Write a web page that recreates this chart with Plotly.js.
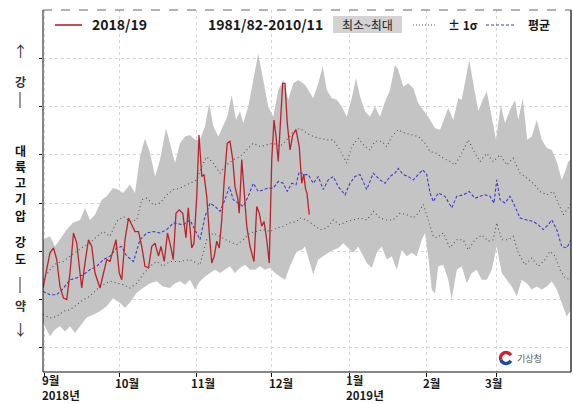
<!DOCTYPE html>
<html><head><meta charset="utf-8">
<script src="https://cdn.plot.ly/plotly-3.0.1.min.js"></script>
<style>html,body{margin:0;padding:0;background:#fff}</style>
</head><body><div id="chart" style="width:573px;height:404px"></div>
<script>
// x = days since 1 Sep 2018
const maxDays=[0,2.8,4.8,6.8,9.5,12,14.8,16.8,18.8,20.8,23.5,25.5,28,30,32,34.8,36.8,38.8,40.8,42.8,44.8,46.8,49.2,51.5,52.8,54.8,56.8,58.8,60.8,62.8,64.8,66.5,68.1,70.1,72.1,73.7,75.5,77.2,78.8,80.1,82.1,84.1,86.1,88.1,90.1,92.1,94.1,96.1,98.1,100.1,102.1,104.8,108.1,110.1,111.9,113.5,115.5,117.5,119.5,121.5,123.5,125.2,126.8,128.8,130.8,132.8,134.8,136.8,138.8,140.8,142.1,144.1,146.1,148.1,150.1,152.1,154.1,156.8,158.8,160.8,162.1,164.1,166.1,167.5,168.8,170.5,172.1,174.1,175.9,177.5,179.5,181.2,183.1,184.8,186.8,188.8,190.1,191.9,193.7,195.5,197.5,199.5,201.5,203.5,205.5,207.5,208.8,210.1,211.2];
const maxVals=[2.24,2.31,2.10,2.24,2.45,2.59,2.65,2.90,2.65,2.76,3.07,3.14,3.31,3.28,3.21,3.38,3.21,3.96,4.34,4.04,3.55,3.90,4.55,4.10,3.83,4.24,4.38,4.41,4.31,4.31,4.59,5.07,4.59,4.38,4.59,4.79,5.24,4.72,4.90,4.66,5.00,5.55,6.10,5.55,5.00,4.79,5.34,5.55,5.14,5.48,5.55,5.45,5.17,5.48,5.83,5.34,5.17,5.14,5.00,4.79,5.17,5.59,5.21,4.90,4.79,5.00,4.79,5.10,5.34,5.86,5.76,5.41,5.48,5.38,5.07,4.93,4.79,4.55,4.52,4.79,4.97,4.72,5.17,5.14,5.48,5.97,5.48,4.90,5.14,5.31,4.79,4.31,5.03,4.66,4.93,5.14,4.72,5.17,4.31,4.38,4.72,4.31,4.14,4.10,3.86,3.48,3.65,3.86,3.90];
const minDays=[0,2.8,4.8,6.8,8.8,10.8,12.8,14.8,17.5,20.2,22.8,25.5,28,30.8,32.8,34.8,37.5,40,42.8,45.5,48,50.8,52.8,54.8,56.8,58.8,60.8,62.8,64.8,66.8,68.8,70.8,72.8,74.8,76.8,78.8,80.8,82.8,84.8,86.8,88.8,90.8,92.8,94.8,96.8,98.8,101.5,103.5,104.8,106.8,108.1,110.1,112.1,114.1,116.1,118.1,120.1,122.1,124.1,126.1,128.1,129.5,131.5,133.5,135.5,137.5,139.5,141.5,143.5,145.5,147.5,149.5,151.5,152.8,154.1,155.5,156.8,158.1,160.1,162.1,163.5,165.5,167.5,169.5,171.5,173.5,175.5,177.5,179.5,181.5,183.5,185.5,187.5,189.5,191.5,193.5,195.5,197.5,199.5,201.5,203.5,205.5,207.5,209.5,210.8,211.2];
const minVals=[0.52,0.24,0.38,0.45,0.34,0.45,0.31,0.45,0.63,0.69,0.76,0.86,1.03,0.93,0.83,0.94,1.14,1.24,1.34,1.38,1.27,1.24,1.34,1.38,1.31,1.41,1.21,1.38,1.48,1.55,1.62,1.55,1.62,1.69,1.55,1.66,1.72,1.62,1.62,1.69,1.62,1.66,1.55,1.48,1.41,1.69,2.00,2.03,2.10,1.76,1.52,1.83,1.90,1.97,2.03,2.07,2.17,2.07,1.97,2.10,1.90,1.76,1.66,1.97,2.10,1.83,1.90,1.62,2.03,1.90,1.97,1.90,2.24,2.38,1.90,1.21,1.12,1.69,1.72,1.41,1.00,1.62,1.69,1.34,1.55,1.62,1.41,1.41,1.62,2.10,1.55,1.41,1.27,1.07,1.41,1.34,1.21,1.27,1.21,1.27,1.38,1.21,0.93,0.65,0.76,0.72];
const upDays=[0,2.8,5.5,8.2,10.8,13.5,16.2,18.8,21.5,24.2,26.8,29.5,32.2,34.8,37.5,39.5,41.5,44.2,46.8,49.5,52.2,54.5,56.1,58.8,61.5,63.5,65.5,68.1,70.8,73.5,76.1,78.8,81.5,84.1,86.8,89.5,92.1,94.8,97.5,100.1,102.8,105.5,108.1,110.8,113.5,116.1,118.8,121.5,123.5,126.1,128.8,130.8,132.8,135.5,137.5,139.5,142.1,144.8,147.5,150.1,152.8,154.8,157.5,160.1,162.8,164.8,167.5,170.1,172.1,174.8,177.5,180.1,182.8,185.5,188.1,190.8,193.5,196.1,198.8,201.5,204.1,206.1,208.1,210.1,211.2];
const upVals=[1.41,1.62,1.76,1.79,1.90,2.00,2.10,2.17,2.31,2.41,2.31,2.62,2.72,2.62,2.65,3.07,3.10,2.96,3.00,3.17,3.28,3.30,3.34,3.41,3.48,3.76,3.96,3.83,3.62,3.79,3.90,3.96,4.10,4.24,4.17,4.21,4.24,4.17,4.31,4.48,4.55,4.45,4.38,4.34,4.31,4.31,4.10,3.83,4.17,4.34,4.17,4.10,4.28,4.28,4.17,4.38,4.52,4.45,4.41,4.38,4.24,4.07,4.03,3.93,3.86,3.79,4.03,4.31,4.10,3.86,4.03,3.86,4.00,3.79,3.93,3.62,3.52,3.41,3.24,3.17,3.24,3.00,2.76,2.90,3.00];
const loDays=[0,2.8,5.5,8.2,10.8,13.5,16.2,18.8,21.5,24.2,26.8,29.5,32.2,34.8,37.5,40,42.8,45.5,48,50.8,54.8,58.8,62.8,65.5,68.1,70.8,74.1,77.5,80.1,82.8,85.5,88.1,90.8,93.5,96.1,98.8,101.5,102.8,105.5,108.1,110.8,113.5,116.1,118.8,121.5,124.1,126.8,129.5,132.1,134.8,137.5,140.1,142.8,145.5,148.1,150.1,152.1,154.1,156.1,157.5,160.1,162.8,165.5,168.1,170.1,172.8,175.5,178.1,180.1,181.5,183.5,186.1,188.1,190.1,192.8,195.5,198.1,200.8,202.8,204.8,206.8,208.8,211.2];
const loVals=[0.69,0.62,0.65,0.76,0.79,0.90,1.00,1.07,1.21,1.31,1.38,1.34,1.31,1.24,1.34,1.52,1.69,1.79,1.69,1.79,1.79,1.83,1.72,2.24,2.38,2.31,2.21,2.14,2.24,2.38,2.41,2.45,2.41,2.48,2.52,2.59,2.62,2.69,2.65,2.55,2.45,2.48,2.65,2.55,2.62,2.65,2.69,2.65,2.83,2.69,2.65,2.65,2.79,2.76,2.69,2.79,2.97,2.65,2.31,2.28,2.38,2.07,2.24,2.24,2.03,2.24,2.34,2.21,2.24,2.59,2.24,2.24,2.31,1.97,1.72,1.86,1.69,1.83,2.00,1.90,1.62,1.45,1.41];
const meanDays=[0,2.8,5.5,8.2,10.8,13.5,16.2,18.8,21.5,24.2,26.8,29.5,31.5,33.5,36.2,38.8,41.5,44.2,46.8,49.5,52.2,56.1,58.8,60.8,62.8,64.8,66.8,68.8,70.8,72.8,74.5,76.1,78.1,80.1,82.1,84.1,86.1,88.1,90.1,92.1,94.1,96.1,97.7,99.5,101.2,102.5,104.1,106.1,108.1,110.1,112.1,114.1,116.1,118.1,120.8,122.8,124.8,126.8,129.5,132.1,134.8,136.8,138.8,140.8,142.1,144.1,146.1,148.1,150.1,151.9,153.5,154.8,156.1,158.1,160.8,163.5,165.5,168.1,170.5,172.8,174.8,176.8,178.8,180.4,181.5,182.8,184.8,186.8,188.8,190.8,193.5,196.1,198.1,200.1,202.1,203.5,205.5,207.5,209.5,211.2];
const meanVals=[1.17,1.10,1.10,1.24,1.41,1.45,1.52,1.62,1.69,1.83,1.90,2.07,2.10,1.90,1.79,2.24,2.38,2.41,2.38,2.45,2.59,2.55,2.65,2.45,2.24,2.72,3.00,2.93,2.83,3.07,3.34,3.07,3.00,2.93,3.14,3.41,3.24,3.28,3.31,3.31,3.45,3.41,3.24,3.41,3.38,3.65,3.59,3.59,3.41,3.55,3.28,3.48,3.55,3.34,3.17,3.41,3.55,3.59,3.28,3.62,3.48,3.41,3.55,3.62,3.72,3.59,3.55,3.48,3.59,3.69,3.59,3.21,3.03,3.21,3.14,2.90,3.14,3.17,3.24,3.10,3.14,3.17,3.14,3.00,3.48,3.07,3.00,3.14,2.93,2.69,2.65,2.62,2.55,2.45,2.55,2.65,2.45,2.10,2.07,2.24];
const obsDays=[0,1.3,2.8,4.2,5.5,6.8,8.2,9.5,10.8,12.2,13.5,14.8,15.5,16.8,18.2,19.5,20.8,22.8,24.2,25.5,26.8,28.2,29.2,30.5,31.5,32.8,34.2,35.5,36.8,38.2,39.5,40.8,42.2,43.5,44.8,46.2,47.2,48.5,49.8,51.2,52.1,53.2,54.5,55.9,57.2,58.1,59.5,60.4,61.5,62.4,63.5,64.4,65.5,66.5,67.5,68.5,69.5,70.5,71.5,72.5,73.7,74.8,75.9,76.8,77.9,78.5,79.5,80.4,81.5,82.8,84.4,85.5,86.5,87.5,88.4,89.5,90.5,91.5,92.4,93.2,94.1,95.1,95.9,96.8,97.7,98.8,99.9,101.2,102.5,103.5,104.3,105,105.6,106.5];
const obsVals=[1.24,1.62,1.97,2.07,1.83,1.27,1.03,1.00,1.55,2.38,2.17,1.55,1.24,1.76,2.24,2.10,1.55,1.24,1.55,1.83,1.79,2.03,2.24,1.55,1.41,2.24,2.69,2.55,2.41,2.41,2.10,1.69,1.66,2.10,2.17,1.90,2.10,1.79,2.38,2.07,1.83,2.79,2.86,2.79,2.28,2.90,2.07,2.17,3.14,4.41,3.55,3.59,3.14,2.38,1.76,1.90,2.21,2.07,2.65,3.48,4.24,4.28,3.90,3.34,3.10,2.79,3.90,3.28,2.52,2.10,1.79,2.93,2.79,2.52,2.62,2.24,1.76,3.90,4.72,4.38,3.86,4.79,5.48,5.48,4.66,4.10,4.41,4.52,4.17,3.41,3.60,3.30,3.20,2.76];
const monthTicks=[0.5,30.5,61.5,91.5,122.5,153.5,181.5];
const monthLabels=['9월','10월','11월','12월','1월','2월','3월'];
const yearLabels=['2018년','','','','2019년','',''];

const L=43,R=571,T=10,B=372;
const px=x=>(x-L)/(R-L), py=y=>(B-y)/(B-T);
const FONT='"Noto Sans CJK KR", "Noto Sans", sans-serif';

const traces=[
 {x:maxDays.concat(minDays.slice().reverse()), y:maxVals.concat(minVals.slice().reverse()),
  fill:'toself', fillcolor:'#c4c4c4', line:{width:0}, mode:'lines', hoverinfo:'skip'},
 {x:upDays,y:upVals,mode:'lines',line:{color:'#505050',width:1.1,dash:'1px,3px'}},
 {x:loDays,y:loVals,mode:'lines',line:{color:'#505050',width:1.1,dash:'1px,3px'}},
 {x:meanDays,y:meanVals,mode:'lines',line:{color:'#3b3bc8',width:1.1,dash:'3px,2px'}},
 {x:obsDays,y:obsVals,mode:'lines',line:{color:'#bb2329',width:1.3}}
];

const ann=[], shp=[];
function txt(t,x,y,o){ann.push(Object.assign({text:t,xref:'paper',yref:'paper',x:px(x),y:py(y),showarrow:false,xanchor:'left',yanchor:'middle',borderpad:0,font:{family:FONT,size:12,color:'#1a1a1a'}},o||{}));}
function ln(x0,y0,x1,y1,line){shp.push({type:'line',xref:'paper',yref:'paper',x0:px(x0),y0:py(y0),x1:px(x1),y1:py(y1),line:line});}

// legend
ln(55,25,82,25,{color:'#bb2329',width:1.6});
txt('<b>2018/19</b>',91,24,{font:{family:FONT,size:14,color:'#1a1a1a'}});
txt('<b>1981/82-2010/11</b>',207,24,{font:{family:FONT,size:14,color:'#1a1a1a'}});
shp.push({type:'rect',xref:'paper',yref:'paper',x0:px(333),x1:px(402),y0:py(33),y1:py(16),fillcolor:'#d3d3d3',line:{width:0}});
txt('최소~최대',367.5,24.5,{xanchor:'center',font:{family:FONT,size:12,color:'#222'}});
ln(413,25,436,25,{color:'#555',width:1,dash:'1px,2px'});
txt('<b>± 1σ</b>',447,24.5,{font:{family:FONT,size:12,color:'#1a1a1a'}});
ln(486,25,514,25,{color:'#3b3bc8',width:1,dash:'3px,2px'});
txt('<b>평균</b>',527,24.5,{font:{family:FONT,size:12,color:'#1a1a1a'}});

// left vertical label (one character per line, as in the reference)
txt('↑',20,50,{xanchor:'center',font:{family:FONT,size:15,color:'#333'}});
txt('<b>강</b>',20,81,{xanchor:'center',font:{family:FONT,size:12,color:'#333'}});
ln(20,92,20,108,{color:'#333',width:1});
const vChars=['대','륙','고','기','압','강','도'], vY=[151,167,183,199,215,242,258];
vChars.forEach((c,i)=>txt('<b>'+c+'</b>',20,vY[i],{xanchor:'center',font:{family:FONT,size:12,color:'#111'}}));
ln(20,277,20,293,{color:'#333',width:1});
txt('<b>약</b>',20,305,{xanchor:'center',font:{family:FONT,size:12,color:'#333'}});
txt('↓',20,328,{xanchor:'center',font:{family:FONT,size:15,color:'#333'}});

// month labels (month + year in one left-aligned text block)
const labX=[41,114,190,268,345,422,484];
monthLabels.forEach((m,i)=>{
  if(yearLabels[i]) txt('<b>'+m+'<br>'+yearLabels[i]+'</b>',labX[i],404,{yanchor:'bottom',align:'left',font:{family:FONT,size:11.5,color:'#1a1a1a'}});
  else txt('<b>'+m+'</b>',labX[i],383,{font:{family:FONT,size:11.5,color:'#1a1a1a'}});
});

// frame
ln(L,T,L,B,{color:'#111',width:1});
ln(L,B,R,B,{color:'#111',width:1});
ln(R,T,R,B,{color:'#333',width:1.5});
ln(L,T,R,T,{color:'#666',width:1,dash:'dash'});

// logo
function arc(cx,cy,r,a0,a1){let s='';for(let a=a0;a<=a1+0.01;a+=10){const t=a*Math.PI/180;s+=(s?' L ':'M ')+px(cx+r*Math.cos(t)).toFixed(5)+' '+py(cy-r*Math.sin(t)).toFixed(5);}return s;}
shp.push({type:'path',xref:'paper',yref:'paper',path:arc(506,358,5.5,30,200),line:{color:'#d2202f',width:3.4}});
shp.push({type:'path',xref:'paper',yref:'paper',path:arc(506,358,5.5,200,330),line:{color:'#1a4d9c',width:3.4}});
txt('기상청',516,358,{font:{family:FONT,size:9,color:'#555'}});

const layout={
 width:573,height:404,margin:{l:L,r:573-R,t:T,b:404-B},
 paper_bgcolor:'#fff',plot_bgcolor:'#fff',showlegend:false,
 xaxis:{range:[0,211.2],tickvals:monthTicks,showticklabels:false,ticks:'outside',ticklen:4,tickcolor:'#111',
   showgrid:true,gridcolor:'#d6d6d6',griddash:'dot',gridwidth:1,zeroline:false,showline:false},
 yaxis:{range:[-0.5,7],tickvals:[0,1,2,3,4,5,6],showticklabels:false,ticks:'outside',ticklen:3,tickcolor:'#111',
   showgrid:true,gridcolor:'#d6d6d6',griddash:'dot',gridwidth:1,zeroline:false,showline:false},
 annotations:ann,shapes:shp
};
Plotly.newPlot('chart',traces,layout,{staticPlot:true,displayModeBar:false});
</script></body></html>
